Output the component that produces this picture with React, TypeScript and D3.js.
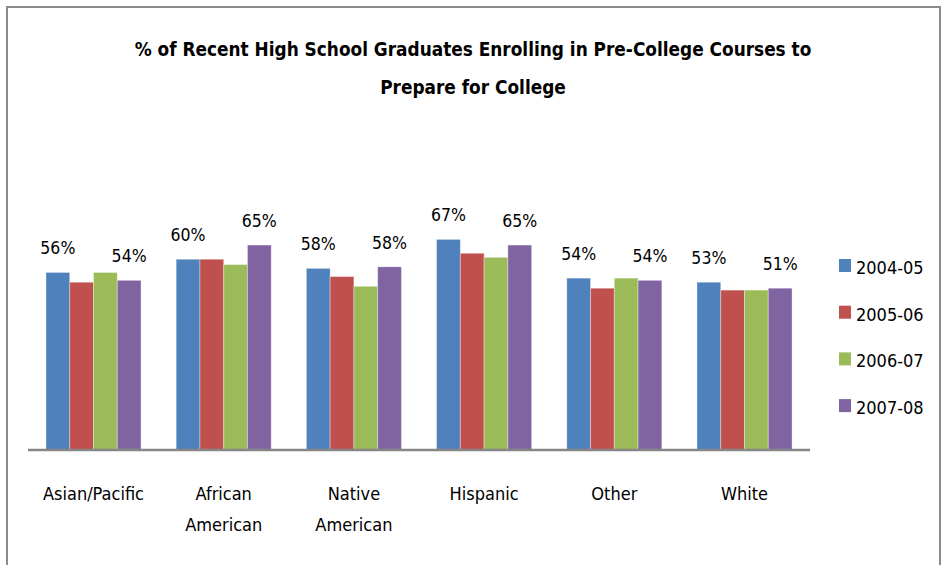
import React, { useLayoutEffect, useRef, useState } from "react";
import * as d3 from "d3";

const categories = ["Asian/Pacific", "African American", "Native American", "Hispanic", "Other", "White"];
const categoryLines = [["Asian/Pacific"], ["African", "American"], ["Native", "American"], ["Hispanic"], ["Other"], ["White"]];
const seriesNames = ["2004-05", "2005-06", "2006-07", "2007-08"];
const s2004 = [56.2, 60.4, 57.5, 66.7, 54.4, 53.1];
const s2005 = [53.1, 60.4, 54.9, 62.3, 51.2, 50.6];
const s2006 = [56.2, 58.7, 51.8, 61.0, 54.4, 50.6];
const s2007 = [53.7, 64.9, 58.0, 64.9, 53.7, 51.2];
const labeledSeries = ["2004-05", "2007-08"];
const colors = ["#4F81BD", "#C0504D", "#9BBB59", "#8064A2"];
const titleLines = ["% of Recent High School Graduates Enrolling in Pre-College Courses to", "Prepare for College"];

const W = 944;
const H = 565;
const FONT = "'Liberation Sans Narrow', 'DejaVu Sans Condensed', 'Arial Narrow', sans-serif";
const TITLE_WIDTH = 677;

export default function App() {
  const seriesValues = [s2004, s2005, s2006, s2007];
  const x0 = d3.scaleBand<string>().domain(categories).range([28, 810]).paddingInner(0.27).paddingOuter(0.138);
  const x1 = d3.scaleBand<string>().domain(seriesNames).range([0, x0.bandwidth()]).padding(0);
  const y = d3.scaleLinear().domain([0, 100]).range([449.5, 134.5]);
  const color = d3.scaleOrdinal<string, string>().domain(seriesNames).range(colors);

  const titleRef = useRef<SVGTextElement>(null);
  const [titleSize, setTitleSize] = useState(20);
  useLayoutEffect(() => {
    if (titleRef.current && titleSize === 20) {
      const len = titleRef.current.getComputedTextLength();
      if (len > 0) setTitleSize(Math.min(26, (20 * TITLE_WIDTH) / len));
    }
  }, [titleSize]);

  return (
    <svg width={W} height={H} style={{ position: "absolute", left: 0, top: 0, display: "block", background: "#fff" }}>
      {/* frame */}
      <path d={`M7,${H} V7 H940 V${H}`} fill="none" stroke="#8c8c8c" strokeWidth={2} />
      {/* title */}
      <text ref={titleRef} x={473} y={56} textAnchor="middle" fontFamily={FONT} fontWeight="bold" fontSize={titleSize} fill="#000">{titleLines[0]}</text>
      <text x={473} y={94} textAnchor="middle" fontFamily={FONT} fontWeight="bold" fontSize={titleSize} fill="#000">{titleLines[1]}</text>
      {/* bars */}
      {categories.map((c, ci) => (
        <g key={c} transform={`translate(${x0(c)},0)`}>
          {seriesNames.map((s, si) => {
            const v = seriesValues[si][ci];
            return (
              <rect key={s} x={x1(s)} y={y(v)} width={x1.bandwidth()} height={y(0) - y(v)}
                fill={color(s)} stroke="rgba(255,255,255,0.35)" strokeWidth={1} />
            );
          })}
          {seriesNames.filter((s) => labeledSeries.includes(s)).map((s) => {
            const si = seriesNames.indexOf(s);
            const v = seriesValues[si][ci];
            return (
              <text key={s} x={(x1(s) as number) + x1.bandwidth() / 2} y={y(v) - 18} textAnchor="middle"
                fontFamily={FONT} fontSize={17.5} fill="#000">{`${Math.round(v)}%`}</text>
            );
          })}
        </g>
      ))}
      {/* axis */}
      <line x1={28} x2={810} y1={450} y2={450} stroke="#868686" strokeWidth={2.5} />
      {categories.map((c, ci) => (
        <text key={c} x={(x0(c) as number) + x0.bandwidth() / 2} y={500} textAnchor="middle" fontFamily={FONT} fontSize={18} fill="#000">
          {categoryLines[ci].map((ln, li) => (
            <tspan key={li} x={(x0(c) as number) + x0.bandwidth() / 2} dy={li === 0 ? 0 : 31}>{ln}</tspan>
          ))}
        </text>
      ))}
      {/* legend */}
      {seriesNames.map((s, i) => (
        <g key={s} transform={`translate(839,${259 + i * 46.7})`}>
          <rect x={0} y={0} width={12} height={13} fill={color(s)} />
          <text x={17} y={15} fontFamily={FONT} fontSize={18} fill="#000">{s}</text>
        </g>
      ))}
    </svg>
  );
}
